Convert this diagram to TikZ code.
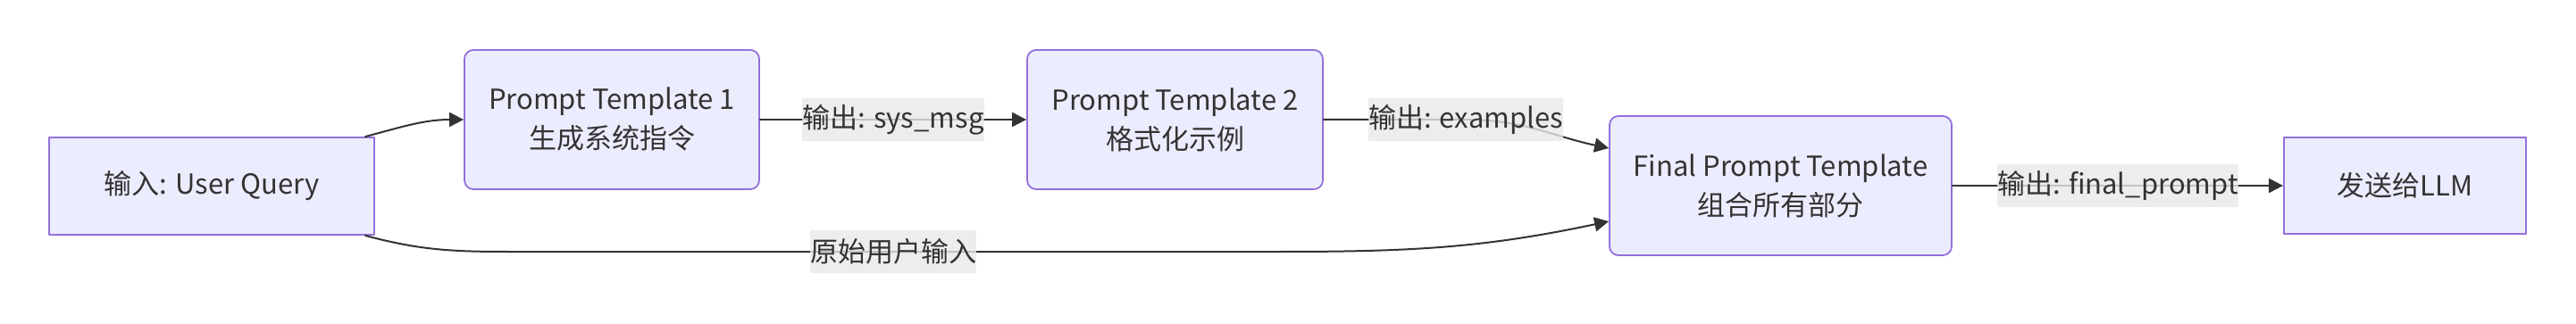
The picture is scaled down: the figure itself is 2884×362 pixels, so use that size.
\documentclass[tikz,border=0pt]{standalone}
\usepackage{fontspec}
\setmainfont{Noto Sans CJK SC}
\usetikzlibrary{arrows.meta}
\definecolor{boxfill}{HTML}{ECECFF}
\definecolor{boxline}{HTML}{9370DB}
\definecolor{ink}{HTML}{333333}
\definecolor{labelbg}{HTML}{E8E8E8}
\tikzset{
  box/.style={draw=boxline,fill=boxfill,line width=1.8pt,text=ink,align=center,
    inner sep=0pt,font=\fontsize{31}{44}\selectfont},
  roundbox/.style={box,rounded corners=10pt},
  edge/.style={draw=ink,line width=2pt,-{Triangle[length=16pt,width=16pt]}},
  elabel/.style={fill=labelbg,fill opacity=0.8,text opacity=1,text=ink,
    inner xsep=0pt,inner ysep=0pt,minimum height=48pt,font=\fontsize{31}{44}\selectfont}
}
\begin{document}
\begin{tikzpicture}[x=1pt,y=1pt,line cap=round,line join=round]
  \useasboundingbox (0,0) rectangle (2884,362);
  \node[box,minimum width=364pt,minimum height=109pt] (query) at (237,153.5) {输入: User Query};
  \node[roundbox,minimum width=330pt,minimum height=156pt] (tpl1) at (685,228) {Prompt Template 1\\生成系统指令};
  \node[roundbox,minimum width=331pt,minimum height=156pt] (tpl2) at (1315.5,228) {Prompt Template 2\\格式化示例};
  \node[roundbox,minimum width=383pt,minimum height=156pt] (final) at (1993.5,154) {Final Prompt Template\\组合所有部分};
  \node[box,minimum width=271pt,minimum height=108pt] (llm) at (2692.5,154) {发送给LLM};
  \draw[edge] ([xshift=-11pt]query.north east) to[out=15,in=180] (tpl1.west);
  \draw[edge] (tpl1) -- node[elabel] {输出: sys\_msg} (tpl2);
  \draw[edge] (tpl2.east) -- (1641,228) node[elabel] {输出: examples}
    to[out=0,in=168] ([yshift=42pt]final.west);
  \draw[edge] ([xshift=-11pt]query.south east) to[out=-15,in=180] (570,80)
    -- node[elabel] {原始用户输入} (1430,80) to[out=0,in=192] ([yshift=-40pt]final.west);
  \draw[edge] (final) -- node[elabel] {输出: final\_prompt} (llm);
\end{tikzpicture}
\end{document}
